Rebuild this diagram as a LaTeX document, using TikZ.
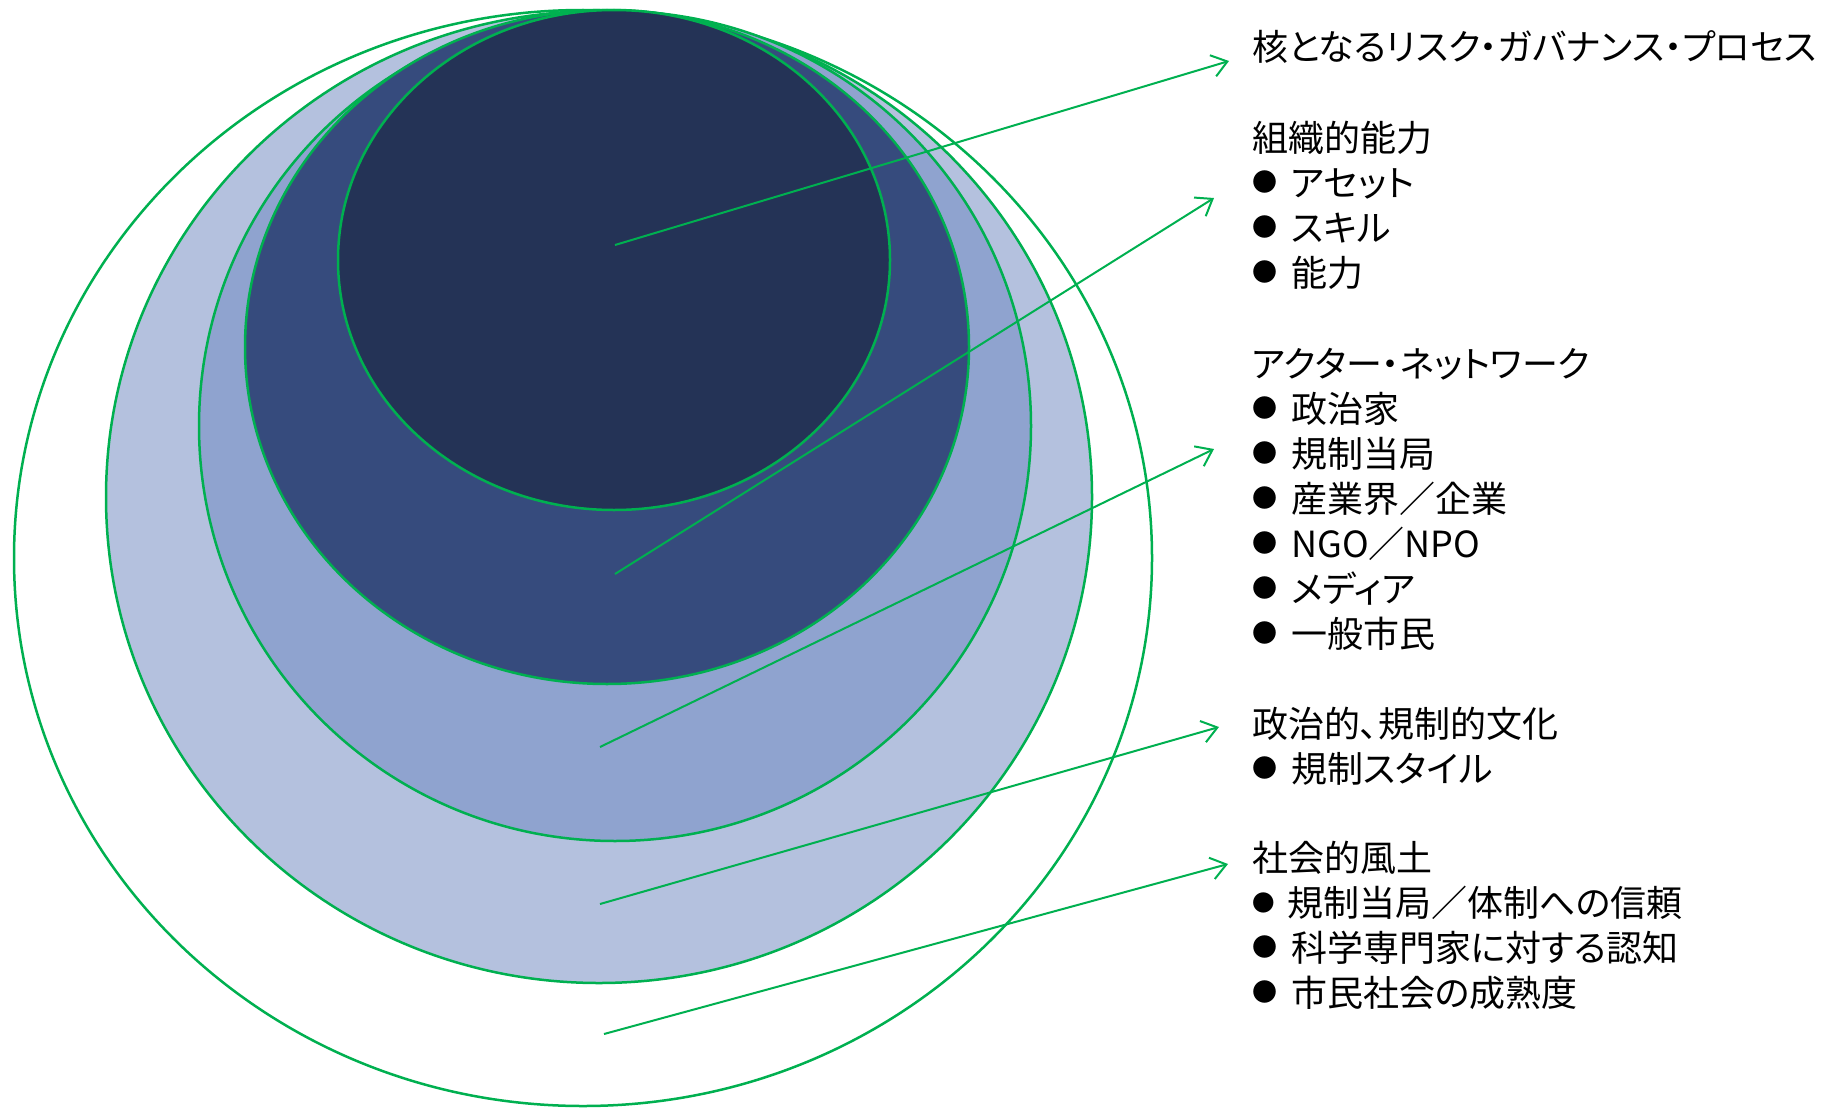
\documentclass[tikz,border=0pt]{standalone}
\usepackage{fontspec}
\newfontfamily\jp[RawFeature=+palt]{Noto Sans CJK JP}
\newfontfamily\jpbul{Noto Sans CJK JP}
\usetikzlibrary{arrows.meta}
\definecolor{ogreen}{HTML}{00B050}
\definecolor{cA}{HTML}{B4C1DE}
\definecolor{cB}{HTML}{8FA3CF}
\definecolor{cC}{HTML}{364B7D}
\definecolor{cD}{HTML}{243356}
\newcommand\bul{\makebox[39pt][l]{\raisebox{4.2pt}{\jpbul\fontsize{25}{25}\selectfont ●}}}
\newcommand\bulsm{\makebox[35pt][l]{\raisebox{5pt}{\jpbul\fontsize{22.5}{22.5}\selectfont ●}}}
\tikzset{
  ring/.style={draw=ogreen, line width=2.5pt},
  conn/.style={draw=ogreen, line width=2pt, -{Straight Barb[length=15pt,width=22pt,line width=2pt]}},
  txt/.style={anchor=base west, inner sep=0pt, text=black, font=\jp\fontsize{36}{45}\selectfont}
}
\begin{document}
\begin{tikzpicture}[x=1pt,y=-1pt]
\useasboundingbox (0,0) rectangle (1834,1108);
% ellipses
\draw[ring, fill=white] (583,558) ellipse [x radius=569, y radius=548];
\draw[ring, fill=cA] (599,497) ellipse [x radius=493, y radius=486];
\draw[ring, fill=cB] (615,426) ellipse [x radius=416, y radius=415];
\draw[ring, fill=cC] (607,347) ellipse [x radius=362, y radius=337];
\draw[ring, fill=cD] (614,260) ellipse [x radius=276, y radius=250];
% texts
\node[txt] (t1) at (1252,61) {核となるリスク・ガバナンス・プロセス};
\node[txt] (t2) at (1252,151) {組織的能力};
\node[txt] (t2a) at (1252,196) {\bul アセット};
\node[txt] (t2b) at (1252,241) {\bul スキル};
\node[txt] (t2c) at (1252,286) {\bul 能力};
\node[txt] (t3) at (1252,377) {アクター・ネットワーク};
\node[txt] (t3a) at (1252,422) {\bul 政治家};
\node[txt] (t3b) at (1252,467) {\bul 規制当局};
\node[txt] (t3c) at (1252,512) {\bul 産業界／企業};
\node[txt] (t3d) at (1252,557) {\bul NGO／NPO};
\node[txt] (t3e) at (1252,602) {\bul メディア};
\node[txt] (t3f) at (1252,647) {\bul 一般市民};
\node[txt] (t4) at (1252,737) {政治的、規制的文化};
\node[txt] (t4a) at (1252,782) {\bul 規制スタイル};
\node[txt] (t5) at (1252,871) {社会的風土};
\node[txt] (t5a) at (1252,916) {\bulsm 規制当局／体制への信頼};
\node[txt] (t5b) at (1252,961) {\bul 科学専門家に対する認知};
\node[txt] (t5c) at (1252,1006) {\bul 市民社会の成熟度};
% connectors
\coordinate (s1) at (615,245); \coordinate (e1) at (1229,61);
\coordinate (s2) at (615,574); \coordinate (e2) at (1214,198);
\coordinate (s3) at (600,747); \coordinate (e3) at (1214,449);
\coordinate (s4) at (600,904); \coordinate (e4) at (1219,727);
\coordinate (s5) at (604,1034); \coordinate (e5) at (1228,864);
\foreach \i in {1,...,5} \draw[conn] (s\i) -- (e\i);
\end{tikzpicture}
\end{document}
